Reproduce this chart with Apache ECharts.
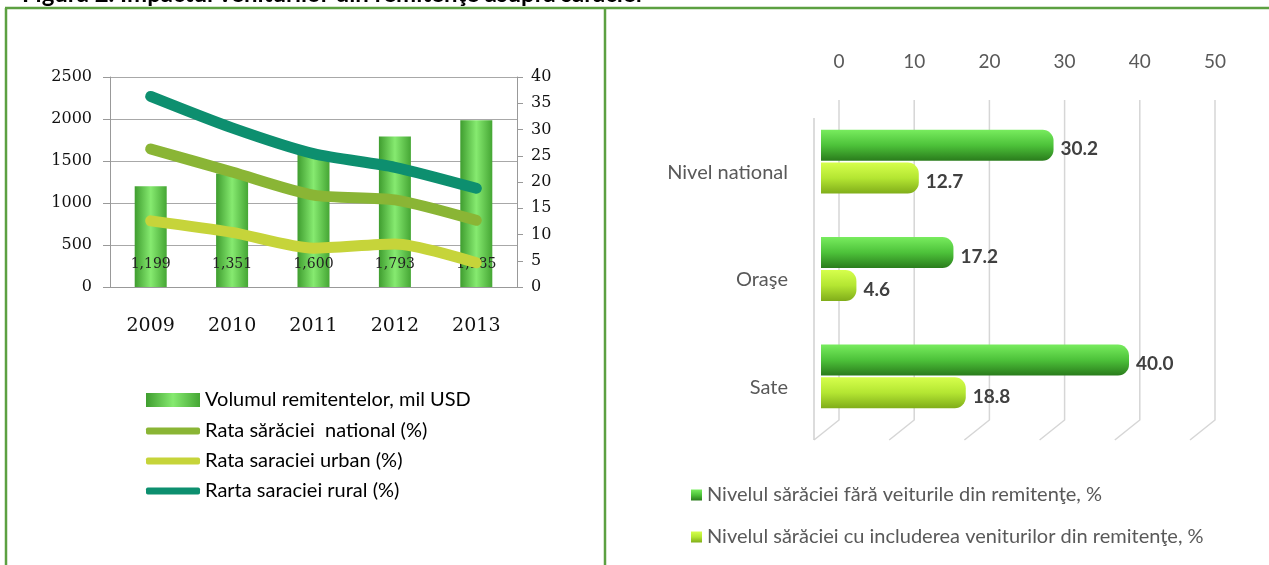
<!DOCTYPE html>
<html lang="ro">
<head>
<meta charset="UTF-8">
<title>Impactul veniturilor din remitenţe asupra sărăciei</title>
<script src="https://cdn.jsdelivr.net/npm/echarts@6/dist/echarts.min.js"></script>
<style>
  html, body { margin: 0; padding: 0; background: #fff; }
  #chart { width: 1269px; height: 565px; }
</style>
</head>
<body>
<div id="chart"></div>
<script>
  // left panel: remittances (bars) and poverty rates (lines)
  const years = ['2009', '2010', '2011', '2012', '2013'];
  const remittances = [1199, 1351, 1600, 1793, 1985];
  const povertyNational = [26.3, 21.9, 17.5, 16.6, 12.7];
  const povertyUrban = [12.6, 10.4, 7.4, 8.2, 4.6];
  const povertyRural = [36.3, 30.3, 25.4, 22.8, 18.8];
  const leftTicks = [0, 500, 1000, 1500, 2000, 2500];
  const rightTicks = [0, 5, 10, 15, 20, 25, 30, 35, 40];

  // right panel: poverty level with / without remittances
  const areas = ['Nivel national', 'Oraşe', 'Sate'];
  const withoutRemit = [30.2, 17.2, 40.0];
  const withRemit = [12.7, 4.6, 18.8];
  const topTicks = [0, 10, 20, 30, 40, 50];

  const names = {
    remit: 'Volumul remitentelor, mil USD',
    nat: 'Rata sărăciei  national (%)',
    urb: 'Rata saraciei urban (%)',
    rur: 'Rarta saraciei rural (%)',
    without: 'Nivelul sărăciei fără veiturile din remitenţe, %',
    with: 'Nivelul sărăciei cu includerea veniturilor din remitenţe, %'
  };

  const serif = 'DejaVu Serif';
  const sans = 'Lato';
  const grey = '#595959';
  const border = '#5ca041';

  const barFill = new echarts.graphic.LinearGradient(0, 0, 1, 0, [
    { offset: 0, color: '#3f9d2f' },
    { offset: 0.5, color: '#86ea70' },
    { offset: 1, color: '#45a634' }
  ]);
  const darkFill = new echarts.graphic.LinearGradient(0, 0, 0, 1, [
    { offset: 0, color: '#78ec5e' },
    { offset: 0.5, color: '#4dc23a' },
    { offset: 1, color: '#2a7c1c' }
  ]);
  const lightFill = new echarts.graphic.LinearGradient(0, 0, 0, 1, [
    { offset: 0, color: '#d6ff4c' },
    { offset: 0.5, color: '#b4e632' },
    { offset: 1, color: '#80ad1a' }
  ]);

  const baseGraphic = [
    {
      type: 'text', left: 22, top: -18, z: 10,
      style: { text: 'Figura 2. Impactul veniturilor din remitenţe asupra sărăciei', font: 'bold 24px Lato', fill: '#000' }
    },
    { type: 'line', shape: { x1: 5, y1: 8, x2: 1269, y2: 8 }, style: { stroke: border, lineWidth: 2.5 }, z: 10 },
    { type: 'line', shape: { x1: 6, y1: 8, x2: 6, y2: 565 }, style: { stroke: border, lineWidth: 2.5 }, z: 10 },
    { type: 'line', shape: { x1: 605, y1: 8, x2: 605, y2: 565 }, style: { stroke: border, lineWidth: 2.5 }, z: 10 }
  ];

  const chart = echarts.init(document.getElementById('chart'));

  const option = {
    animation: false,
    backgroundColor: '#fff',
    graphic: baseGraphic,
    legend: [
      {
        orient: 'vertical', left: 146, top: 390, padding: 0, itemWidth: 54, itemHeight: 14,
        textStyle: { fontFamily: sans, fontSize: 20, color: '#000', lineHeight: 20 },
        data: [{ name: names.remit, icon: 'rect' }]
      },
      {
        orient: 'vertical', left: 146, top: 421, padding: 0, itemWidth: 54, itemHeight: 7, itemGap: 10,
        textStyle: { fontFamily: sans, fontSize: 20, color: '#000', lineHeight: 20 },
        data: [
          { name: names.nat, icon: 'roundRect' },
          { name: names.urb, icon: 'roundRect' },
          { name: names.rur, icon: 'roundRect' }
        ]
      },
      {
        orient: 'vertical', left: 691, top: 485, padding: 0, itemWidth: 11, itemHeight: 11, itemGap: 22,
        textStyle: { fontFamily: sans, fontSize: 20, color: grey, lineHeight: 20 },
        data: [{ name: names.without, icon: 'rect' }, { name: names.with, icon: 'rect' }]
      }
    ],
    grid: [
      { left: 110, width: 407, top: 77, height: 210 },
      { left: 821, width: 385, top: 108, height: 322 },
      { left: 839, width: 376, top: 119, height: 322 }
    ],
    xAxis: [
      {
        type: 'category', gridIndex: 0, data: years,
        axisLine: { lineStyle: { color: '#999' } },
        axisTick: { length: 8, lineStyle: { color: '#999' } },
        axisLabel: { fontFamily: serif, fontSize: 19, color: '#111', margin: 30 }
      },
      { type: 'value', gridIndex: 1, min: 0, max: 50, show: false },
      {
        type: 'value', gridIndex: 2, position: 'top',
        min: topTicks[0], max: topTicks[topTicks.length - 1], interval: topTicks[1] - topTicks[0],
        axisLine: { show: false }, axisTick: { show: false }, splitLine: { show: false },
        axisLabel: { fontFamily: sans, fontSize: 19, color: grey, margin: 48 }
      }
    ],
    yAxis: [
      {
        type: 'value', gridIndex: 0,
        min: leftTicks[0], max: leftTicks[leftTicks.length - 1], interval: leftTicks[1] - leftTicks[0],
        axisLine: { show: true, lineStyle: { color: '#999' } },
        axisTick: { show: true, length: 7, lineStyle: { color: '#999' } },
        splitLine: { lineStyle: { color: '#a8a8a8' } },
        axisLabel: { fontFamily: serif, fontSize: 16, color: '#111', margin: 18, formatter: v => String(v) }
      },
      {
        type: 'value', gridIndex: 0, position: 'right',
        min: rightTicks[0], max: rightTicks[rightTicks.length - 1], interval: rightTicks[1] - rightTicks[0],
        axisLine: { show: true, lineStyle: { color: '#999' } },
        axisTick: { show: true, length: 6, lineStyle: { color: '#999' } },
        splitLine: { show: false },
        axisLabel: { fontFamily: serif, fontSize: 16, color: '#111', margin: 14, formatter: v => String(v) }
      },
      { type: 'category', gridIndex: 1, data: areas, inverse: true, show: false },
      {
        type: 'category', gridIndex: 2, data: areas, inverse: true,
        axisLine: { show: false }, axisTick: { show: false },
        axisLabel: { fontFamily: sans, fontSize: 20, color: grey, margin: 51 }
      }
    ],
    series: [
      {
        name: names.remit, type: 'bar', xAxisIndex: 0, yAxisIndex: 0,
        data: remittances, barWidth: 32,
        itemStyle: { color: barFill },
        label: {
          show: true, position: 'insideBottom', distance: 16,
          fontFamily: serif, fontSize: 14, color: '#222',
          formatter: p => p.value.toLocaleString('en-US')
        }
      },
      {
        name: names.nat, type: 'line', xAxisIndex: 0, yAxisIndex: 1, z: 3,
        data: povertyNational, smooth: 0.25, symbol: 'none',
        color: '#8ab535', lineStyle: { width: 11, cap: 'round', join: 'round', color: '#8ab535' }
      },
      {
        name: names.urb, type: 'line', xAxisIndex: 0, yAxisIndex: 1, z: 3,
        data: povertyUrban, smooth: 0.25, symbol: 'none',
        color: '#c6d43a', lineStyle: { width: 11, cap: 'round', join: 'round', color: '#c6d43a' }
      },
      {
        name: names.rur, type: 'line', xAxisIndex: 0, yAxisIndex: 1, z: 3,
        data: povertyRural, smooth: 0.25, symbol: 'none',
        color: '#0d8f6f', lineStyle: { width: 11, cap: 'round', join: 'round', color: '#0d8f6f' }
      },
      {
        name: names.without, type: 'bar', xAxisIndex: 1, yAxisIndex: 2,
        data: withoutRemit, barWidth: 31, barGap: '6%',
        itemStyle: { color: darkFill, borderRadius: [0, 11, 11, 0] },
        label: {
          show: true, position: 'right', distance: 7, offset: [0, 4],
          fontFamily: sans, fontWeight: 'bold', fontSize: 19, color: '#404040',
          formatter: p => p.value.toFixed(1)
        }
      },
      {
        name: names.with, type: 'bar', xAxisIndex: 1, yAxisIndex: 2,
        data: withRemit, barWidth: 31, barGap: '6%',
        itemStyle: { color: lightFill, borderRadius: [0, 11, 11, 0] },
        label: {
          show: true, position: 'right', distance: 7, offset: [0, 4],
          fontFamily: sans, fontWeight: 'bold', fontSize: 19, color: '#404040',
          formatter: p => p.value.toFixed(1)
        }
      }
    ]
  };

  chart.setOption(option);

  // 3D-style back wall grid lines, placed from the top axis scale
  const wallLines = topTicks.map(v => {
    const x = chart.convertToPixel({ xAxisIndex: 2 }, v);
    return {
      type: 'polyline', silent: true, z: 0,
      shape: { points: [[x, 100], [x, 420], [x - 25, 440]] },
      style: { stroke: '#d6d6d6', lineWidth: 1.5, fill: null }
    };
  });
  const x0 = chart.convertToPixel({ xAxisIndex: 2 }, 0) - 25;
  wallLines.push({
    type: 'line', silent: true, z: 0,
    shape: { x1: x0, y1: 118, x2: x0, y2: 440 },
    style: { stroke: '#d0d0d0', lineWidth: 1.5 }
  });

  chart.setOption({ graphic: baseGraphic.concat(wallLines) });

  window.onresize = function () {
    chart.resize();
  };
</script>
</body>
</html>
